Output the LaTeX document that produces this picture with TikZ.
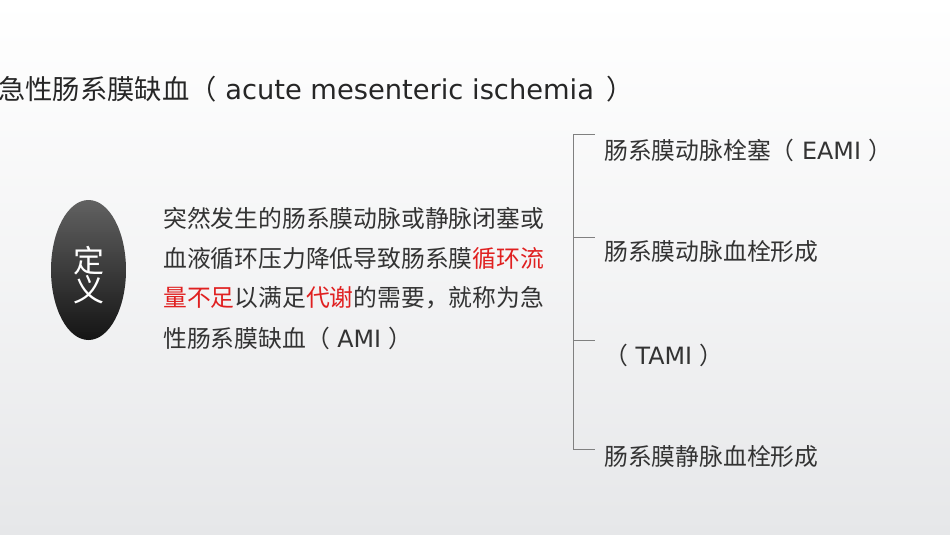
\documentclass[tikz,border=0pt]{standalone}
\usepackage{fontspec}
\setmainfont{DejaVu Sans}
\newfontfamily\cjk{Noto Sans CJK SC}
\usetikzlibrary{shapes.geometric}
\definecolor{txt}{HTML}{333333}
\definecolor{redtxt}{HTML}{E02020}
\definecolor{bggray}{HTML}{E6E7E9}
\definecolor{brk}{HTML}{808080}
\tikzset{
  body/.style={anchor=west, inner sep=0pt, text=txt, font=\fontsize{23.8pt}{28pt}\selectfont},
  titletext/.style={anchor=west, inner sep=0pt, text=black!85, font=\fontsize{27.3pt}{32pt}\selectfont},
  bracketline/.style={draw=brk, line width=0.9pt},
  oval/.style={ellipse, minimum width=75pt, minimum height=140pt, inner sep=0pt, draw=none,
     path picture={
       \foreach \i in {0,...,71}{
         \pgfmathsetmacro{\mix}{62+0.43*\i}
         \fill[black!\mix] ([yshift=-2*\i pt]path picture bounding box.north west) rectangle ([yshift=-2*\i pt-2.4pt]path picture bounding box.north east);
       }}},
  ovaltext/.style={anchor=center, inner sep=0pt, text=white, font=\cjk\fontsize{31pt}{32pt}\selectfont},
}
\newcommand{\rd}[1]{\textcolor{redtxt}{#1}}
\begin{document}
\begin{tikzpicture}[x=1pt,y=-1pt]
\useasboundingbox (0,0) rectangle (950,535);
\shade[top color=white, bottom color=bggray, middle color=white!55!bggray] (0,0) rectangle (950,535);
% title
\node[titletext] (title) at (-2,89) {\cjk 急性肠系膜缺血（\normalfont{} acute mesenteric ischemia\hspace{4pt} {\cjk ）}};
% oval
\node[oval] (def) at (88.5,270) {};
\node[ovaltext] (d1) at (89,261) {定};
\node[ovaltext] (d2) at (89,290) {义};
% paragraph
\node[body] (p1) at (163,218) {\cjk 突然发生的肠系膜动脉或静脉闭塞或};
\node[body] (p2) at (163,259) {\cjk 血液循环压力降低导致肠系膜\rd{循环流}};
\node[body] (p3) at (163,298) {\cjk \rd{量不足}以满足\rd{代谢}的需要，就称为急};
\node[body] (p4) at (163,338) {\cjk 性肠系膜缺血（\normalfont{} AMI {\cjk ）}};
% right items
\node[body] (r1) at (604,150) {\cjk 肠系膜动脉栓塞（\normalfont{} EAMI {\cjk ）}};
\node[body] (r2) at (604,252) {\cjk 肠系膜动脉血栓形成};
\node[body] (r3) at (604,355) {\cjk （\normalfont{} TAMI {\cjk ）}};
\node[body] (r4) at (604,457) {\cjk 肠系膜静脉血栓形成};
% bracket
\coordinate (b1) at (573,134);
\coordinate (b2) at (573,237);
\coordinate (b3) at (573,340);
\coordinate (b4) at (573,449);
\coordinate (t1) at (595,134);
\coordinate (t2) at (595,237);
\coordinate (t3) at (595,340);
\coordinate (t4) at (595,449);
\draw[bracketline] (b1) -- (b4);
\draw[bracketline] (b1) -- (t1);
\draw[bracketline] (b2) -- (t2);
\draw[bracketline] (b3) -- (t3);
\draw[bracketline] (b4) -- (t4);
\end{tikzpicture}
\end{document}
